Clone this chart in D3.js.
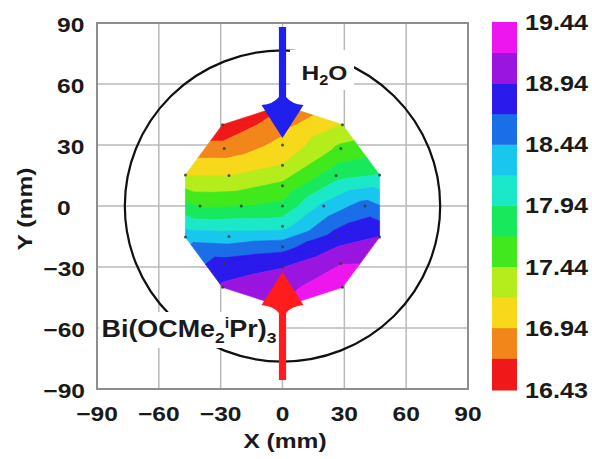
<!DOCTYPE html>
<html>
<head>
<meta charset="utf-8">
<script src="https://cdn.jsdelivr.net/npm/d3@7"></script>
<style>
  body { margin: 0; background: #fff; }
  svg { display: block; }
  text { font-family: "Liberation Sans", Arial, Helvetica, sans-serif; font-weight: bold; fill: #1a1a1a; }
</style>
</head>
<body>
<svg id="chart" width="592" height="459"></svg>
<script>
// Measurement sites on the wafer (mm) and the film thickness read at each site
const siteX = [0, 0, 0, 0, 20, 0, -20, 0, 26, 26, 0, -26, -26, 0, 28.3, 40, 28.3, 0, -28.3, -40, -28.3,
               0, 29.1, 47.1, 47.1, 29.1, 0, -29.1, -47.1, -47.1, -29.1];
const siteY = [0, 10, -10, 20, 0, -20, 0, 30, 15, -15, -30, -15, 15, 40, 28.3, 0, -28.3, -40, -28.3, 0, 28.3,
               49.5, 40.0, 15.3, -15.3, -40.0, -49.5, -40.0, -15.3, 15.3, 40.0];
const siteValue = [17.75, 17.5, 18.1, 17.2, 18.25, 18.6, 17.68, 17.0, 17.85, 18.8, 18.93, 18.3, 17.18, 16.86, 17.5, 18.55, 19.18, 19.1, 18.8, 17.65, 16.8,
                   16.66, 17.2, 17.95, 18.95, 19.4, 19.22, 18.98, 18.35, 17.18, 16.45];

// Contour levels and the colour of each band between them
const levels = [16.43, 16.69, 16.94, 17.19, 17.44, 17.69, 17.94, 18.19, 18.44, 18.69, 18.94, 19.19, 19.44];
const bandColors = ["#f01818", "#f2861a", "#f7d81a", "#b4ec1c", "#40e81c", "#18e85c", "#1ae8c8",
                    "#18c6ee", "#1a6ee8", "#2a1aec", "#9a16e0", "#ee16ee"];
const legendLabels = [19.44, 18.94, 18.44, 17.94, 17.44, 16.94, 16.43];
const axisTicks = [-90, -60, -30, 0, 30, 60, 90];

// Wafer outline radius (mm)
const waferRadius = 76.5;

// Precursor inlets: label, tail and tip of each arrow along Y (mm)
const inletNames = ["H2O", "Bi(OCMe2iPr)3"];
const inletTail = [88, -85.6];
const inletTip = [33.5, -32.5];

const svg = d3.select("#chart");
const x = d3.scaleLinear().domain([-90, 90]).range([97, 468]);
const y = d3.scaleLinear().domain([-90, 90]).range([389, 23]);
const SX = 1.17; // horizontal stretch of all lettering

function stretchedText(parent, px, py, anchor, size, rotate) {
  return parent.append("text")
    .attr("transform", `translate(${px},${py})${rotate ? ` rotate(${rotate})` : ""} scale(${SX},1)`)
    .attr("text-anchor", anchor)
    .attr("font-size", size);
}

// ---- grid and frame ----
const grid = svg.append("g");
axisTicks.slice(1, -1).forEach(t => {
  grid.append("line").attr("x1", x(t)).attr("x2", x(t)).attr("y1", y(-90)).attr("y2", y(90))
    .attr("stroke", "#b9b9b9").attr("stroke-width", 1.5);
  grid.append("line").attr("x1", x(-90)).attr("x2", x(90)).attr("y1", y(t)).attr("y2", y(t))
    .attr("stroke", "#b9b9b9").attr("stroke-width", 1.5);
});
svg.append("rect")
  .attr("x", x(-90)).attr("y", y(90))
  .attr("width", x(90) - x(-90)).attr("height", y(-90) - y(90))
  .attr("fill", "none").attr("stroke", "#8e8e8e").attr("stroke-width", 2);

// ---- wafer outline ----
svg.append("ellipse")
  .attr("cx", x(0)).attr("cy", y(0))
  .attr("rx", x(waferRadius) - x(0)).attr("ry", y(0) - y(waferRadius))
  .attr("fill", "none").attr("stroke", "#111").attr("stroke-width", 2.2);

// ---- filled contours: linear interpolation over a Delaunay triangulation ----
const sites = siteX.map((sx, i) => [sx, siteY[i], siteValue[i]]);
const delaunay = d3.Delaunay.from(sites, d => d[0], d => d[1]);

function clipByLevel(poly, level, sign) {
  const out = [];
  for (let i = 0; i < poly.length; i++) {
    const a = poly[i], b = poly[(i + 1) % poly.length];
    const da = sign * (a[2] - level), db = sign * (b[2] - level);
    if (da >= 0) out.push(a);
    if ((da >= 0) !== (db >= 0)) {
      const t = da / (da - db);
      out.push([a[0] + t * (b[0] - a[0]), a[1] + t * (b[1] - a[1]), level]);
    }
  }
  return out;
}

const bandPaths = bandColors.map(() => d3.path());
const tri = delaunay.triangles;
for (let t = 0; t < tri.length; t += 3) {
  const poly = [sites[tri[t]], sites[tri[t + 1]], sites[tri[t + 2]]];
  bandColors.forEach((c, k) => {
    const lo = k === 0 ? -Infinity : levels[k];
    const hi = k === bandColors.length - 1 ? Infinity : levels[k + 1];
    const part = clipByLevel(clipByLevel(poly, lo, 1), hi, -1);
    if (part.length >= 3) {
      const p = bandPaths[k];
      p.moveTo(x(part[0][0]), y(part[0][1]));
      for (let i = 1; i < part.length; i++) p.lineTo(x(part[i][0]), y(part[i][1]));
      p.closePath();
    }
  });
}
svg.append("g").selectAll("path")
  .data(bandPaths)
  .join("path")
  .attr("d", p => p.toString())
  .attr("fill", (p, k) => bandColors[k])
  .attr("stroke", (p, k) => bandColors[k])
  .attr("stroke-width", 0.7)
  .attr("stroke-linejoin", "round");

// measurement site markers
svg.append("g").selectAll("circle")
  .data(sites)
  .join("circle")
  .attr("cx", d => x(d[0])).attr("cy", d => y(d[1]))
  .attr("r", 1.5)
  .attr("fill", "#2f3f30")
  .attr("opacity", 0.85);

// ---- inlet labels on white boxes ----
const h2o = svg.append("g");
h2o.append("rect").attr("x", 290).attr("y", 50).attr("width", 64).attr("height", 40).attr("fill", "#fff");
const h2oText = stretchedText(h2o, 301.5, 80, "start", 21);
h2oText.append("tspan").text("H");
h2oText.append("tspan").attr("font-size", 14).attr("dy", 5).text("2");
h2oText.append("tspan").attr("dy", -5).text("O");

const bi = svg.append("g");
bi.append("rect").attr("x", 99).attr("y", 312).attr("width", 180).attr("height", 36).attr("fill", "#fff");
const biText = stretchedText(bi, 101.5, 336.7, "start", 23);
biText.append("tspan").text("Bi(OCMe");
biText.append("tspan").attr("font-size", 15).attr("dy", 6).text("2");
biText.append("tspan").attr("font-size", 14).attr("dy", -14.7).text("i");
biText.append("tspan").attr("dy", 8.7).text("Pr)");
biText.append("tspan").attr("font-size", 15).attr("dy", 6).text("3");

// ---- inlet arrows ----
function arrowPath(tipX, tipY, tailY) {
  const s = tailY < tipY ? 1 : -1;           // 1: arrow points down
  const L = Math.abs(tipY - tailY);
  const P = (a, u) => [tipX + a, tipY - s * u];
  const p = d3.path();
  const pt = (q, f) => p[f](q[0], q[1]);
  pt(P(0, 0), "moveTo");
  pt(P(21, 33), "lineTo");
  const c1 = P(9, 34), j1 = P(3.6, 41);
  p.quadraticCurveTo(c1[0], c1[1], j1[0], j1[1]);
  pt(P(3.6, L), "lineTo");
  pt(P(-3.6, L), "lineTo");
  pt(P(-3.6, 41), "lineTo");
  const c2 = P(-9, 34), w2 = P(-21, 33);
  p.quadraticCurveTo(c2[0], c2[1], w2[0], w2[1]);
  p.closePath();
  return p.toString();
}
const arrowColors = ["#2020ee", "#ff1c1c"];
svg.append("g").selectAll("path")
  .data(inletNames)
  .join("path")
  .attr("d", (d, i) => arrowPath(x(0), y(inletTip[i]), y(inletTail[i])))
  .attr("fill", (d, i) => arrowColors[i]);

// ---- axes labels ----
const axes = svg.append("g");
axisTicks.forEach(t => {
  const label = t < 0 ? "\u2212" + Math.abs(t) : String(t);
  stretchedText(axes, x(t), 421, "middle", 21).text(label);
  if (t < 0) stretchedText(axes, 85, y(t) + 8.5, "end", 21).text(label);
  else stretchedText(axes, 57, y(t) + 8.5, "start", 21).text(label);
});
stretchedText(axes, 285, 448.3, "middle", 21).text("X (mm)");
stretchedText(axes, 32, 209, "middle", 21, -90).text("Y (mm)");

// ---- colour bar ----
const cb = d3.scaleLinear().domain([levels[0], levels[levels.length - 1]]).range([390, 22]);
const bar = svg.append("g");
bar.selectAll("rect")
  .data(bandColors)
  .join("rect")
  .attr("x", 492).attr("width", 25)
  .attr("y", (c, k) => cb(levels[k + 1]))
  .attr("height", (c, k) => cb(levels[k]) - cb(levels[k + 1]) + 0.5)
  .attr("fill", c => c);
legendLabels.forEach(v => {
  stretchedText(bar, 525, cb(v) + 8, "start", 21.5).text(v.toFixed(2));
});
</script>
</body>
</html>
